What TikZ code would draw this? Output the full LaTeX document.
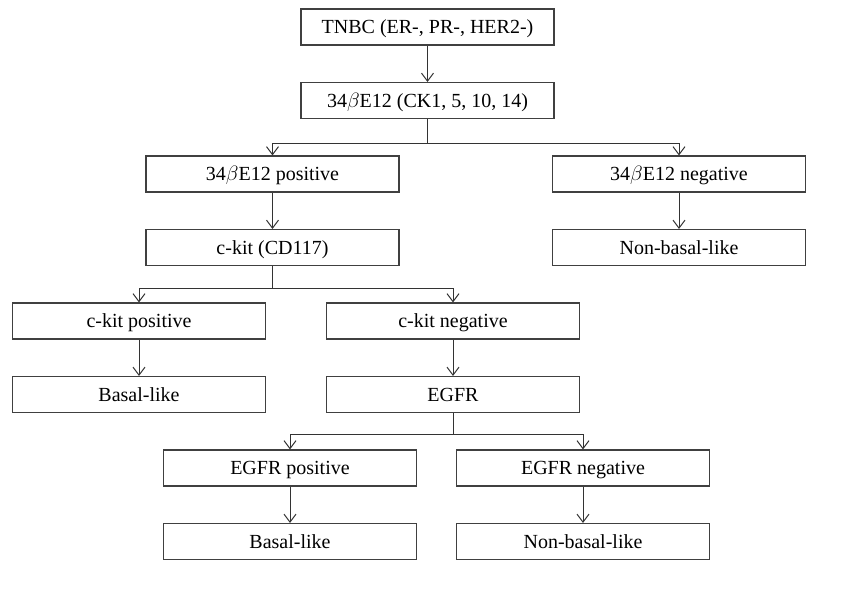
\documentclass[tikz,border=0pt]{standalone}
\usepackage{fontspec}
\setmainfont{Liberation Serif}
\usepackage{tikz}
\usetikzlibrary{arrows.meta,positioning}
\tikzset{
  flowbox/.style={
    draw=black!75,line width=1.1pt,minimum height=36pt,text height=13pt,text depth=0pt,
    minimum width=253pt,inner sep=3pt,font=\fontsize{20}{23}\selectfont
  },
  flowline/.style={line width=1pt,draw=black!80},
  flowarrow/.style={flowline,-{Straight Barb[length=8pt,width=12pt,line width=1pt]}}
}
\begin{document}
\begin{tikzpicture}[x=1pt,y=1pt,node distance=36.4pt and 20pt]
  \useasboundingbox (0,0) rectangle (851,-605);
  % main trunk
  \node[flowbox] (tnbc) at (427.5,-27) {TNBC (ER-, PR-, HER2-)};
  \node[flowbox,below=of tnbc] (ck) {34$\beta$E12 (CK1, 5, 10, 14)};
  % 34bE12 split
  \node[flowbox,below=of ck,xshift=-155pt] (ckpos) {34$\beta$E12 positive};
  \node[flowbox,below=of ck,xshift=251.5pt] (ckneg) {34$\beta$E12 negative};
  \node[flowbox,below=of ckpos] (ckit) {c-kit (CD117)};
  \node[flowbox,below=of ckneg] (nonbasal1) {Non-basal-like};
  % c-kit split
  \node[flowbox,below=of ckit,xshift=-133.5pt] (kitpos) {c-kit positive};
  \node[flowbox,below=of ckit,xshift=180.5pt] (kitneg) {c-kit negative};
  \node[flowbox,below=of kitpos] (basal1) {Basal-like};
  \node[flowbox,below=of kitneg] (egfr) {EGFR};
  % EGFR split
  \node[flowbox,below=of egfr,xshift=-163pt] (egfrpos) {EGFR positive};
  \node[flowbox,below=of egfr,xshift=130pt] (egfrneg) {EGFR negative};
  \node[flowbox,below=of egfrpos] (basal2) {Basal-like};
  \node[flowbox,below=of egfrneg] (nonbasal2) {Non-basal-like};

  \draw[flowarrow] (tnbc) -- (ck);
  \draw[flowarrow] (ck.south) -- ++(0,-24) -| (ckpos.north);
  \draw[flowarrow] (ck.south) -- ++(0,-24) -| (ckneg.north);
  \draw[flowarrow] (ckpos) -- (ckit);
  \draw[flowarrow] (ckneg) -- (nonbasal1);
  \draw[flowarrow] (ckit.south) -- ++(0,-22.5) -| (kitpos.north);
  \draw[flowarrow] (ckit.south) -- ++(0,-22.5) -| (kitneg.north);
  \draw[flowarrow] (kitpos) -- (basal1);
  \draw[flowarrow] (kitneg) -- (egfr);
  \draw[flowarrow] (egfr.south) -- ++(0,-21.5) -| (egfrpos.north);
  \draw[flowarrow] (egfr.south) -- ++(0,-21.5) -| (egfrneg.north);
  \draw[flowarrow] (egfrpos) -- (basal2);
  \draw[flowarrow] (egfrneg) -- (nonbasal2);
\end{tikzpicture}
\end{document}
